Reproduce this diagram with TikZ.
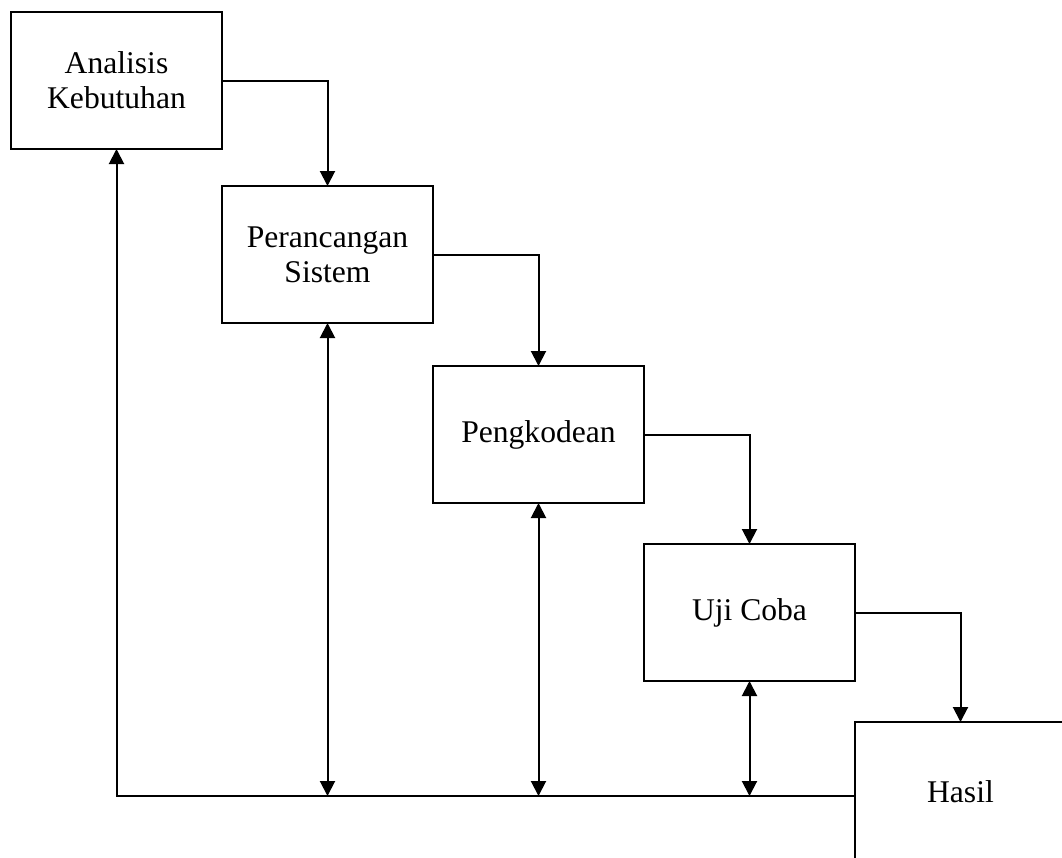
\documentclass[tikz,border=0pt]{standalone}
\usepackage{fontspec}
\setmainfont{Liberation Serif}
\usepackage{tikz}
\usetikzlibrary{arrows.meta, positioning}
\tikzset{
  tahap/.style={
    rectangle, draw, line width=1pt, minimum width=105.5pt,
    minimum height=68.5pt, align=center, inner sep=2pt, outer sep=0pt,
    font=\fontsize{15.8pt}{17.5pt}\selectfont
  },
  arr/.style={-{Triangle[length=7.5pt,width=7.5pt]}, line width=1pt},
  darr/.style={{Triangle[length=7.5pt,width=7.5pt]}-{Triangle[length=7.5pt,width=7.5pt]}, line width=1pt}
}
\begin{document}
\begin{tikzpicture}[x=0.5pt, y=-0.5pt]
  \useasboundingbox (0,0) rectangle (1062,858);
  \clip (0,0) rectangle (1062,858);

  \node[tahap, anchor=north west] (ak) at (11,12) {Analisis\\Kebutuhan};
  \node[tahap, below right=18.5pt and 0pt of ak] (ps) {Perancangan\\Sistem};
  \node[tahap, below right=21.5pt and 0pt of ps] (pk) {Pengkodean};
  \node[tahap, below right=20.5pt and 0pt of pk] (uc) {Uji Coba};
  \node[tahap, minimum height=70pt, below right=20.5pt and 0pt of uc] (hs) {Hasil};

  %% alur ke bawah
  \draw[arr] (ak.east) -| (ps.north);
  \draw[arr] (ps.east) -| (pk.north);
  \draw[arr] (pk.east) -| (uc.north);
  \draw[arr] (uc.east) -| (hs.north);

  %% garis umpan balik
  \coordinate (bl) at (119,796);
  \draw[arr] (hs.west |- bl) -| (ak.south);
  \draw[darr] (ps.south) -- (ps.south |- bl);
  \draw[darr] (pk.south) -- (pk.south |- bl);
  \draw[darr] (uc.south) -- (uc.south |- bl);
\end{tikzpicture}
\end{document}
